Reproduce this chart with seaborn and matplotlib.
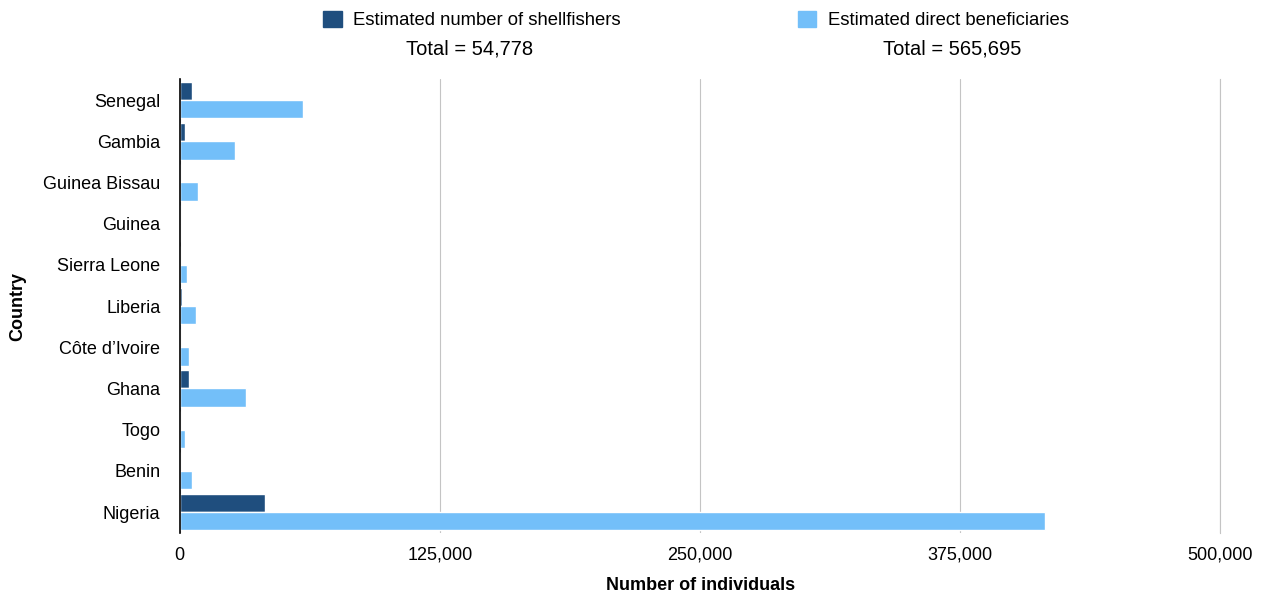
import matplotlib.pyplot as plt
import seaborn as sns
import pandas as pd
from matplotlib.patches import Patch
from matplotlib.ticker import FuncFormatter

# values
countries = ['Senegal', 'Gambia', 'Guinea Bissau', 'Guinea', 'Sierra Leone', 'Liberia',
             'Côte d\u2019Ivoire', 'Ghana', 'Togo', 'Benin', 'Nigeria']
shellfishers = [6000, 2500, 0, 0, 0, 1000, 0, 4300, 0, 0, 41000]
beneficiaries = [59000, 26500, 8700, 0, 3500, 8000, 4300, 31700, 2400, 5800, 415800]
series = ['Estimated number of shellfishers', 'Estimated direct beneficiaries']
totals = ['Total = 54,778', 'Total = 565,695']
colors = ['#1f4e7e', '#73bff9']

df = pd.DataFrame({
    'Country': countries * 2,
    'value': shellfishers + beneficiaries,
    'series': [series[0]] * len(countries) + [series[1]] * len(countries),
})

sns.set_style('white')
plt.rcParams['font.family'] = ['Liberation Sans', 'DejaVu Sans']
plt.rcParams['text.color'] = 'black'
plt.rcParams['axes.labelcolor'] = 'black'
plt.rcParams['xtick.color'] = 'black'
plt.rcParams['ytick.color'] = 'black'

fig = plt.figure(figsize=(12.66, 5.99), dpi=100)
ax = fig.add_axes([0.142, 0.1108, 0.822, 0.7566])

sns.barplot(data=df, x='value', y='Country', hue='series', palette=colors,
            width=0.89, orient='h', ax=ax, legend=False, saturation=1)

ax.set_xlim(0, 500000)
ax.set_xticks([0, 125000, 250000, 375000, 500000])
ax.xaxis.set_major_formatter(FuncFormatter(lambda v, p: f'{int(v):,}'))
ax.grid(axis='x', color='#c4c4c4', lw=0.8)
ax.grid(axis='y', visible=False)
ax.set_axisbelow(True)
for s in ['top', 'bottom']:
    ax.spines[s].set_visible(False)
ax.spines['right'].set_color('#c4c4c4')
ax.spines['right'].set_linewidth(0.8)
ax.spines['left'].set_color('black')
ax.spines['left'].set_linewidth(1.2)
ax.tick_params(axis='y', length=0, labelsize=13, pad=14)
ax.tick_params(axis='x', length=0, labelsize=13, pad=10)
ax.set_xlabel('Number of individuals', fontsize=13, fontweight='bold', labelpad=10)
ax.set_ylabel('Country', fontsize=13, fontweight='bold', labelpad=12)

# legend with totals underneath
handles = [Patch(color=c) for c in colors]
fig.legend(handles, series, loc='center', bbox_to_anchor=(696 / 1266, 1 - 20 / 599),
           ncol=2, frameon=False, fontsize=13.3, columnspacing=9.6,
           handlelength=1.0, handleheight=1.0, handletextpad=0.6)
fig.text(470 / 1266, 1 - 49 / 599, totals[0], ha='center', va='center', fontsize=14.5)
fig.text(952 / 1266, 1 - 49 / 599, totals[1], ha='center', va='center', fontsize=14.5)

fig.savefig('out.png', dpi=100)
